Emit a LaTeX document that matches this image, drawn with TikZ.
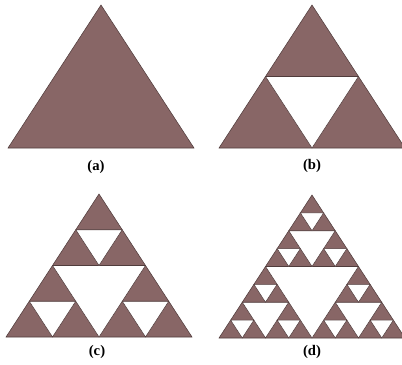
\documentclass[tikz,border=0pt]{standalone}
\usepackage{fontspec}
\setmainfont{Liberation Serif}

\definecolor{sierbrown}{RGB}{136,102,102}
\definecolor{sieredge}{RGB}{80,60,60}

% holes of a Sierpinski triangle: level, apex x, apex y, width, height
\newcommand{\sierholes}[5]{%
  \ifnum#1>0
    \begingroup
    \pgfmathsetmacro{\qa}{#2-#4/4}%
    \pgfmathsetmacro{\qb}{#2+#4/4}%
    \pgfmathsetmacro{\my}{#3+#5/2}%
    \pgfmathsetmacro{\by}{#3+#5}%
    \pgfmathsetmacro{\hw}{#4/2}%
    \pgfmathsetmacro{\hh}{#5/2}%
    \pgfmathtruncatemacro{\lv}{#1-1}%
    \draw[hole] (\qa,\my) -- (\qb,\my) -- (#2,\by) -- cycle;
    \edef\nxt{%
      \noexpand\sierholes{\lv}{#2}{#3}{\hw}{\hh}%
      \noexpand\sierholes{\lv}{\qa}{\my}{\hw}{\hh}%
      \noexpand\sierholes{\lv}{\qb}{\my}{\hw}{\hh}}%
    \nxt
    \endgroup
  \fi}

\begin{document}
\begin{tikzpicture}[
  x=0.75pt, y=-0.75pt,
  piece/.style={fill=sierbrown, draw=sieredge, line width=0.4pt, line join=miter},
  hole/.style={fill=white, draw=sieredge, line width=0.4pt},
  caption/.style={font=\fontsize{11}{13}\selectfont\bfseries, inner sep=0pt}
]
\clip (0,0) rectangle (402,364);
\fill[white] (0,0) rectangle (402,364);

% (a)
\draw[piece] (101,5) -- (194,148) -- (8,148) -- cycle;
\node[caption] (capa) at (96,166.5) {(a)};

% (b)
\draw[piece] (312,5) -- (405,148) -- (219,148) -- cycle;
\sierholes{1}{312}{5}{186}{143}
\node[caption] (capb) at (312,166) {(b)};

% (c)
\draw[piece] (99,194) -- (192,337) -- (6,337) -- cycle;
\sierholes{2}{99}{194}{186}{143}
\node[caption] (capc) at (97,352) {(c)};

% (d)
\draw[piece] (312,195) -- (405,338) -- (219,338) -- cycle;
\sierholes{3}{312}{195}{186}{143}
\node[caption] (capd) at (312,352) {(d)};
\end{tikzpicture}
\end{document}
